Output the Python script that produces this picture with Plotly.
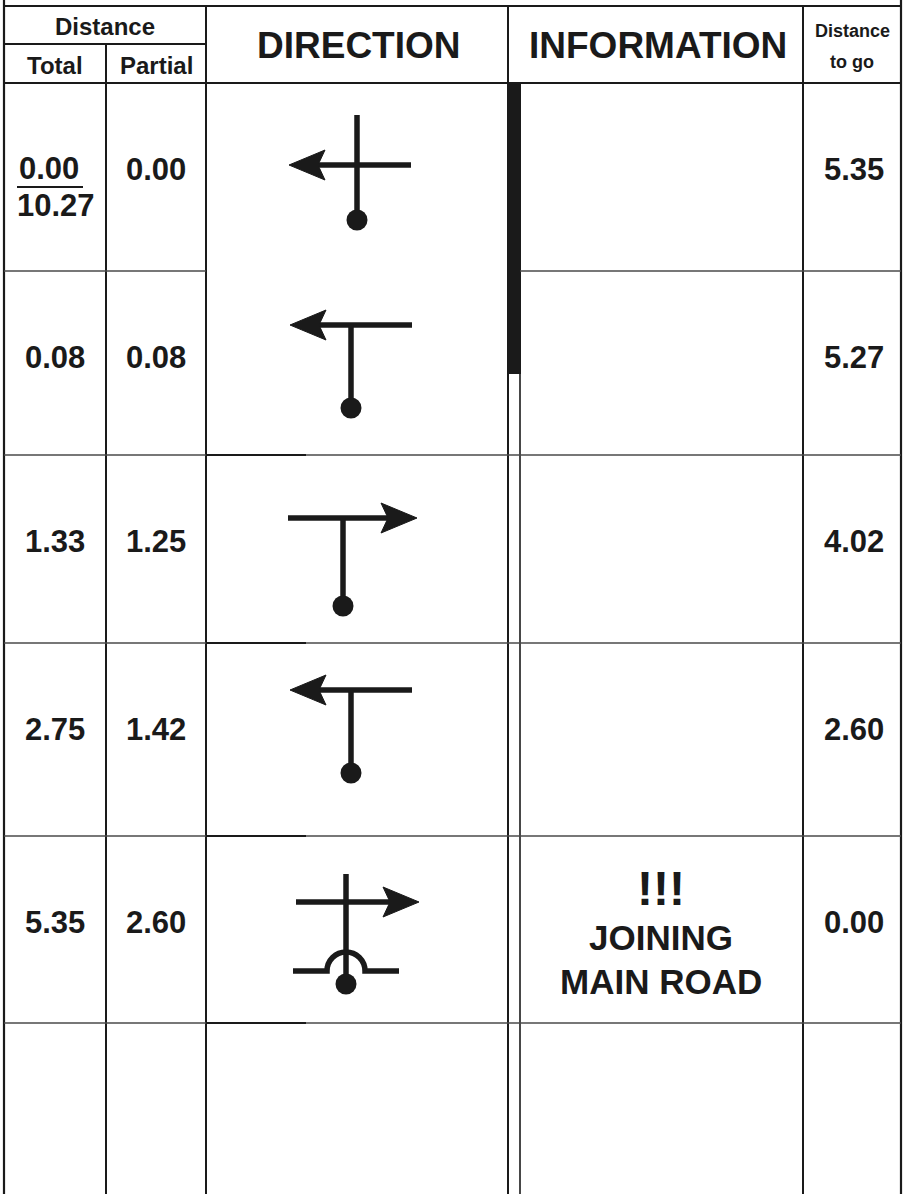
import plotly.graph_objects as go

# ---------------- data ----------------
total_km = ["0.00", "0.08", "1.33", "2.75", "5.35"]
total_reset = ["10.27", "", "", "", ""]
partial_km = ["0.00", "0.08", "1.25", "1.42", "2.60"]
to_go_km = ["5.35", "5.27", "4.02", "2.60", "0.00"]
info_lines = [[], [], [], [], ["!!!", "JOINING", "MAIN ROAD"]]
turn_dir = ["left", "left", "right", "left", "right"]
junction = ["cross", "tee", "tee", "tee", "cross_road"]
header_main = ["DIRECTION", "INFORMATION"]
header_dist = ["Distance", "Total", "Partial"]
header_togo = ["Distance", "to go"]

# ---------------- layout geometry ----------------
W, H = 903, 1194
INK = "#1a1a1a"
FONT = "Liberation Sans, Arial, Helvetica, sans-serif"
col_x = [4, 106, 206, 508, 520, 803, 901]
row_tops = [83, 271, 455, 643, 836, 1023]
header_top = 6
header_mid = 44

# per-row glyph placement (pictogram geometry)
glyph_geo = [
    dict(cx=357, hy=165, top=115, dot=220, xl=289, xr=411),
    dict(cx=351, hy=325, top=None, dot=408, xl=290, xr=412),
    dict(cx=343, hy=518, top=None, dot=606, xl=288, xr=417),
    dict(cx=351, hy=690, top=None, dot=773, xl=290, xr=412),
    dict(cx=346, hy=902, top=874, dot=984, xl=296, xr=419, road=971, rx0=293, rx1=399, r=19),
]

fig = go.Figure()
shapes = []
annots = []


def line(x0, y0, x1, y1, w=2.0, color=INK):
    shapes.append(dict(type="line", x0=x0, y0=y0, x1=x1, y1=y1,
                       line=dict(color=color, width=w), layer="above"))


def text(x, y, s, size, anchor="center"):
    annots.append(dict(x=x, y=y, xref="x", yref="y", text=s, showarrow=False,
                       xanchor=anchor, yanchor="middle",
                       font=dict(family=FONT, size=size, color=INK, weight="bold")))


# ---------------- grid ----------------
line(col_x[0], 0, col_x[0], H, 2.2)
line(col_x[-1], 0, col_x[-1], H, 2.2)
line(col_x[1], header_mid, col_x[1], H, 2.0)
for cx in (col_x[2], col_x[3], col_x[5]):
    line(cx, header_top, cx, H, 2.0)
line(col_x[4], row_tops[0], col_x[4], H, 1.6)
shapes.append(dict(type="rect", x0=col_x[3] - 1, x1=col_x[4] + 1, y0=row_tops[0], y1=374,
                   fillcolor=INK, line=dict(width=0), layer="above"))

line(col_x[0], header_top, col_x[-1], header_top, 2.2)
line(col_x[0], header_mid, col_x[2], header_mid, 1.8)
line(col_x[0], row_tops[0], col_x[-1], row_tops[0], 2.2)
for i, yt in enumerate(row_tops[1:]):
    if i == 0:
        line(col_x[0], yt, col_x[2], yt, 1.6, "#4a4a4a")
        line(col_x[4], yt, col_x[-1], yt, 1.6, "#4a4a4a")
    else:
        line(col_x[0], yt, col_x[-1], yt, 1.6, "#4a4a4a")
        line(col_x[2], yt, col_x[2] + 100, yt, 1.8, INK)

# ---------------- headers ----------------
text((col_x[0] + col_x[2]) / 2, 26, header_dist[0], 24)
text((col_x[0] + col_x[1]) / 2, 65, header_dist[1], 24)
text((col_x[1] + col_x[2]) / 2, 65, header_dist[2], 24)
text((col_x[2] + col_x[3]) / 2 + 2, 45, header_main[0], 37)
text((col_x[4] + col_x[5]) / 2 - 4, 45, header_main[1], 37)
text((col_x[5] + col_x[6]) / 2, 31, header_togo[0], 18)
text((col_x[5] + col_x[6]) / 2, 62, header_togo[1], 18)

# ---------------- rows ----------------
NUM = 31
for i in range(len(total_km)):
    yt = row_tops[i]
    ny = yt + 86
    c_tot = (col_x[0] + col_x[1]) / 2
    if total_reset[i]:
        text(c_tot - 6, yt + 85, total_km[i], NUM)
        line(c_tot - 38, yt + 104, c_tot + 28, yt + 104, 2.0)
        text(c_tot + 1, yt + 122, total_reset[i], NUM)
    else:
        text(c_tot, ny, total_km[i], NUM)
    text((col_x[1] + col_x[2]) / 2, ny, partial_km[i], NUM)
    text((col_x[5] + col_x[6]) / 2 + 2, ny, to_go_km[i], NUM)

    lines_i = info_lines[i]
    if lines_i:
        cx_info = (col_x[4] + col_x[5]) / 2 - 1
        text(cx_info, yt + 52, lines_i[0], 48)
        text(cx_info, yt + 101, lines_i[1], 35)
        text(cx_info, yt + 145, lines_i[2], 35)

    g = glyph_geo[i]
    sw = 5.5
    hy = g["hy"]
    if turn_dir[i] == "left":
        tip, back, notch = g["xl"], g["xl"] + 36, g["xl"] + 29
        line(notch, hy, g["xr"], hy, sw)
    else:
        tip, back, notch = g["xr"], g["xr"] - 36, g["xr"] - 29
        line(g["xl"], hy, notch, hy, sw)
    shapes.append(dict(type="path",
                       path=f"M {tip} {hy} L {back} {hy - 15} L {notch} {hy} L {back} {hy + 15} Z",
                       fillcolor=INK, line=dict(color=INK, width=1), layer="above"))
    stem_top = g["top"] if junction[i] in ("cross", "cross_road") else hy
    line(g["cx"], stem_top, g["cx"], g["dot"], sw)
    r = 10.5
    shapes.append(dict(type="circle", x0=g["cx"] - r, x1=g["cx"] + r, y0=g["dot"] - r, y1=g["dot"] + r,
                       fillcolor=INK, line=dict(width=0), layer="above"))
    if junction[i] == "cross_road":
        ry, rr, cx = g["road"], g["r"], g["cx"]
        k = 0.5523 * rr
        path = (f"M {g['rx0']} {ry} L {cx - rr} {ry} "
                f"C {cx - rr} {ry - k} {cx - k} {ry - rr} {cx} {ry - rr} "
                f"C {cx + k} {ry - rr} {cx + rr} {ry - k} {cx + rr} {ry} "
                f"L {g['rx1']} {ry}")
        shapes.append(dict(type="path", path=path, line=dict(color=INK, width=sw), layer="above"))

fig.update_layout(
    width=W, height=H,
    margin=dict(l=0, r=0, t=0, b=0),
    paper_bgcolor="white", plot_bgcolor="white",
    xaxis=dict(range=[0, W], visible=False, fixedrange=True),
    yaxis=dict(range=[H, 0], visible=False, fixedrange=True),
    shapes=shapes, annotations=annots, showlegend=False,
)
fig.write_html("out.html", config={"displayModeBar": False},
               post_script="document.body.style.margin='0';document.body.style.padding='0';document.body.style.overflow='hidden';")
